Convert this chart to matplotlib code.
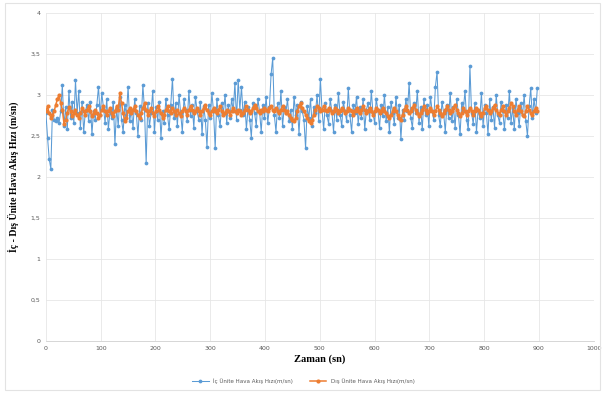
import numpy as np
import matplotlib
matplotlib.use("Agg")
import matplotlib.pyplot as plt
from matplotlib.patches import Rectangle

# zaman (sn), her 3 saniyede bir olcum
zaman = np.arange(0, 900, 3)

ic_unite = [
    2.78, 2.48, 2.22, 2.10, 2.82, 2.70, 2.68, 2.72, 2.66, 2.80, 3.12, 2.62, 2.85, 2.58, 3.05, 2.72, 2.92, 2.66, 3.18, 2.78,
    3.05, 2.60, 2.92, 2.55, 2.80, 2.88, 2.68, 2.92, 2.52, 2.80, 2.70, 2.88, 3.10, 2.75, 3.02, 2.85, 2.66, 2.95, 2.58, 2.80,
    2.72, 2.92, 2.40, 2.85, 2.62, 2.98, 2.70, 2.55, 2.88, 2.75, 3.10, 2.68, 2.82, 2.60, 2.95, 2.78, 2.50, 2.86, 2.70, 3.12,
    2.82, 2.17, 2.90, 2.62, 2.78, 3.05, 2.55, 2.85, 2.70, 2.92, 2.48, 2.80, 2.66, 2.95, 2.75, 2.58, 2.88, 3.20, 2.72, 2.90,
    2.62, 3.00, 2.78, 2.55, 2.95, 2.82, 2.68, 3.05, 2.74, 2.88, 2.60, 2.98, 2.80, 2.70, 2.92, 2.52, 2.86, 2.70, 2.37, 2.88,
    2.72, 3.02, 2.80, 2.35, 2.95, 2.75, 2.62, 2.90, 2.78, 3.00, 2.66, 2.88, 2.72, 2.95, 2.80, 3.15, 2.70, 3.18, 2.82, 3.10,
    2.75, 2.92, 2.58, 2.85, 2.70, 2.48, 2.90, 2.78, 2.62, 2.95, 2.80, 2.55, 2.88, 2.72, 2.98, 2.66, 2.85, 3.25, 3.45, 2.75,
    2.55, 2.90, 2.72, 3.05, 2.62, 2.85, 2.78, 2.95, 2.68, 2.82, 2.58, 2.98, 2.75, 2.88, 2.52, 2.92, 2.80, 2.70, 2.35, 2.86,
    2.72, 2.95, 2.62, 2.85, 2.78, 3.00, 2.68, 3.20, 2.82, 2.58, 2.90, 2.75, 2.65, 2.95, 2.80, 2.55, 2.88, 2.70, 3.02, 2.76,
    2.62, 2.92, 2.80, 2.68, 3.08, 2.75, 2.55, 2.88, 2.78, 2.98, 2.65, 2.85, 2.72, 2.95, 2.58, 2.82, 2.90, 2.70, 3.05, 2.78,
    2.66, 2.95, 2.82, 2.60, 2.88, 2.74, 3.00, 2.68, 2.85, 2.55, 2.92, 2.78, 2.65, 2.98, 2.72, 2.88, 2.46, 2.82, 2.70, 2.95,
    2.80, 3.15, 2.72, 2.60, 2.90, 2.78, 3.05, 2.66, 2.85, 2.58, 2.95, 2.75, 2.88, 2.62, 2.98, 2.80, 2.70, 3.10, 3.28, 2.75,
    2.62, 2.92, 2.78, 2.55, 2.88, 2.72, 3.02, 2.68, 2.85, 2.60, 2.95, 2.76, 2.52, 2.90, 2.82, 3.05, 2.70, 2.58, 3.35, 2.78,
    2.65, 2.90, 2.55, 2.82, 2.72, 3.02, 2.62, 2.88, 2.78, 2.52, 2.95, 2.70, 2.85, 2.60, 3.00, 2.75, 2.66, 2.92, 2.80, 2.58,
    2.88, 2.72, 3.05, 2.66, 2.85, 2.58, 2.95, 2.78, 2.62, 2.90, 2.75, 3.00, 2.68, 2.50, 2.86, 3.08, 2.72, 2.95, 2.78, 3.08,
]

dis_unite = [
    2.80, 2.86, 2.78, 2.72, 2.75, 2.80, 2.88, 2.95, 3.00, 2.90, 2.82, 2.65, 2.70, 2.78, 2.85, 2.80, 2.74, 2.78, 2.82, 2.76,
    2.72, 2.78, 2.84, 2.80, 2.76, 2.82, 2.86, 2.80, 2.74, 2.78, 2.82, 2.78, 2.72, 2.76, 2.82, 2.86, 2.80, 2.76, 2.80, 2.84,
    2.78, 2.74, 2.80, 2.86, 2.82, 3.02, 2.90, 2.78, 2.68, 2.72, 2.80, 2.84, 2.78, 2.82, 2.86, 2.80, 2.76, 2.72, 2.78, 2.84,
    2.90, 2.82, 2.76, 2.80, 2.84, 2.78, 2.74, 2.80, 2.86, 2.82, 2.78, 2.72, 2.76, 2.82, 2.86, 2.80, 2.78, 2.84, 2.80, 2.76,
    2.82, 2.78, 2.74, 2.80, 2.84, 2.80, 2.76, 2.82, 2.86, 2.82, 2.78, 2.80, 2.84, 2.80, 2.76, 2.80, 2.84, 2.88, 2.82, 2.78,
    2.76, 2.80, 2.84, 2.80, 2.78, 2.82, 2.86, 2.80, 2.76, 2.78, 2.82, 2.80, 2.76, 2.80, 2.84, 2.80, 2.78, 2.82, 2.80, 2.76,
    2.78, 2.82, 2.86, 2.82, 2.78, 2.80, 2.84, 2.88, 2.84, 2.80, 2.78, 2.82, 2.80, 2.84, 2.82, 2.80, 2.84, 2.86, 2.82, 2.80,
    2.84, 2.80, 2.78, 2.82, 2.86, 2.82, 2.78, 2.80, 2.76, 2.72, 2.70, 2.68, 2.72, 2.80, 2.86, 2.90, 2.84, 2.80, 2.76, 2.72,
    2.68, 2.66, 2.70, 2.76, 2.82, 2.86, 2.84, 2.80, 2.82, 2.86, 2.82, 2.80, 2.84, 2.82, 2.78, 2.80, 2.84, 2.82, 2.78, 2.80,
    2.84, 2.82, 2.78, 2.80, 2.84, 2.82, 2.80, 2.76, 2.80, 2.84, 2.80, 2.78, 2.82, 2.86, 2.82, 2.78, 2.80, 2.84, 2.80, 2.76,
    2.80, 2.84, 2.82, 2.78, 2.80, 2.84, 2.80, 2.78, 2.74, 2.72, 2.76, 2.80, 2.84, 2.80, 2.76, 2.72, 2.70, 2.76, 2.82, 2.86,
    2.82, 2.78, 2.80, 2.84, 2.88, 2.82, 2.78, 2.74, 2.78, 2.82, 2.86, 2.82, 2.78, 2.80, 2.84, 2.80, 2.76, 2.80, 2.86, 2.82,
    2.78, 2.74, 2.78, 2.82, 2.86, 2.82, 2.78, 2.80, 2.84, 2.88, 2.82, 2.78, 2.74, 2.78, 2.84, 2.80, 2.76, 2.80, 2.84, 2.80,
    2.76, 2.80, 2.84, 2.82, 2.78, 2.74, 2.78, 2.84, 2.86, 2.82, 2.78, 2.80, 2.84, 2.88, 2.82, 2.78, 2.76, 2.82, 2.86, 2.80,
    2.76, 2.80, 2.84, 2.90, 2.86, 2.80, 2.76, 2.82, 2.86, 2.80, 2.76, 2.74, 2.80, 2.86, 2.82, 2.78, 2.76, 2.80, 2.84, 2.80,
]

x_ticks = [0, 100, 200, 300, 400, 500, 600, 700, 800, 900, 1000]
y_ticks = [0, 0.5, 1, 1.5, 2, 2.5, 3, 3.5, 4]
y_tick_labels = ["0", "0,5", "1", "1,5", "2", "2,5", "3", "3,5", "4"]

mavi = "#5B9BD5"
turuncu = "#ED7D31"

fig = plt.figure(figsize=(6.04, 3.94), dpi=100)
ax = fig.add_axes([0.076, 0.135, 0.907, 0.832])

# grafik cercevesi (excel gibi)
fig.patches.append(Rectangle((0.008, 0.01), 0.986, 0.982, transform=fig.transFigure,
                             fill=False, edgecolor="#e3e3e3", linewidth=0.8))

ax.plot(zaman, ic_unite, color=mavi, linewidth=0.75, marker="o", markersize=2.7,
        markeredgewidth=0, label="İç Ünite Hava Akış Hızı(m/sn)", zorder=3)
ax.plot(zaman, dis_unite, color=turuncu, linewidth=1.1, marker="o", markersize=3.0,
        markeredgewidth=0, label="Dış Ünite Hava Akış Hızı(m/sn)", zorder=4)

ax.set_xlim(0, 1000)
ax.set_ylim(0, 4)
ax.set_xticks(x_ticks)
ax.set_yticks(y_ticks)
ax.set_yticklabels(y_tick_labels)
ax.grid(True, color="#e6e6e6", linewidth=0.6)
ax.set_axisbelow(True)
for s in ["top", "right", "left"]:
    ax.spines[s].set_visible(False)
ax.spines["bottom"].set_color("#d0d0d0")
ax.spines["bottom"].set_linewidth(0.6)
ax.tick_params(length=0, labelsize=4.5, labelcolor="#595959", pad=4)

ax.set_xlabel("Zaman (sn)", fontsize=7.5, fontweight="bold", family="Liberation Serif", labelpad=2)
ax.set_ylabel("İç - Dış Ünite Hava Akış Hızı (m/sn)", fontsize=7, fontweight="bold",
              family="Liberation Serif", labelpad=8)

ax.legend(loc="upper center", bbox_to_anchor=(0.47, -0.1), ncol=2, frameon=False,
          fontsize=4, labelcolor="#595959", handlelength=3, columnspacing=3)

fig.savefig("out.png", dpi=100)
